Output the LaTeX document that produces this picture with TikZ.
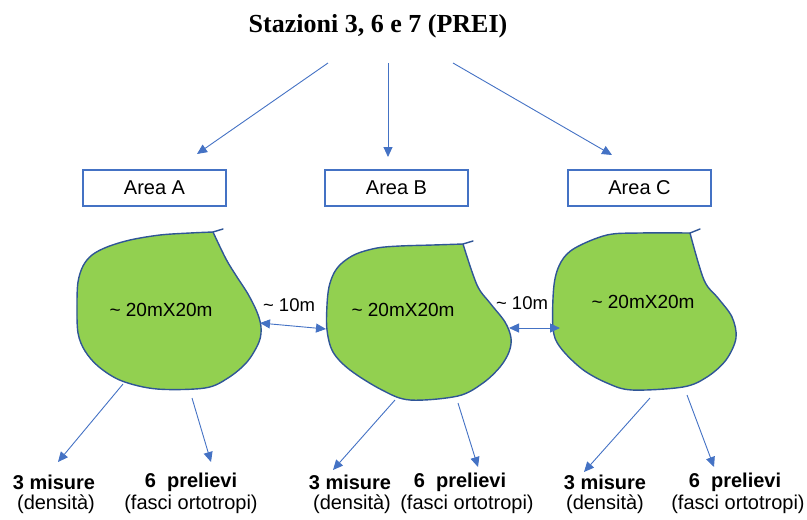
\documentclass[tikz,border=0pt]{standalone}
\usepackage{fontspec}
\setmainfont{Liberation Serif}
\setsansfont{Liberation Sans}
\usetikzlibrary{arrows.meta}
\definecolor{arrblue}{HTML}{4472C4}
\definecolor{edgeblue}{HTML}{2F5597}
\definecolor{grassgreen}{HTML}{92D050}
\tikzset{
  conn/.style={draw=arrblue, line width=0.9pt, -{Triangle[length=10pt,width=9pt]}},
  dconn/.style={draw=arrblue, line width=0.9pt, {Triangle[length=10pt,width=9pt]}-{Triangle[length=10pt,width=9pt]}},
  areabox/.style={draw=arrblue, line width=1.3pt, minimum width=143pt, minimum height=36pt, inner sep=0pt, font=\sffamily\fontsize{20}{24}\selectfont},
  field/.style={draw=edgeblue, line width=1.4pt, fill=grassgreen, line join=round},
  tick/.style={draw=edgeblue, line width=1.4pt, line cap=round},
  lbl/.style={inner sep=0pt, font=\sffamily\fontsize{20}{24}\selectfont},
  blbl/.style={inner sep=0pt, font=\sffamily\bfseries\fontsize{20}{24}\selectfont},
  dist/.style={inner sep=0pt, font=\sffamily\fontsize{18.5}{22}\selectfont},
  size/.style={inner sep=0pt, font=\sffamily\fontsize{19}{23}\selectfont}
}
\begin{document}
\begin{tikzpicture}[x=1pt,y=-1pt]
\useasboundingbox (0,0) rectangle (807,520);

% title
\node[inner sep=0pt, font=\bfseries\fontsize{26}{30}\selectfont] (title) at (378,26) {Stazioni 3, 6 e 7 (PREI)};

% area boxes
\node[areabox] (boxA) at (154.5,188) {Area A};
\node[areabox] (boxB) at (396.5,188) {Area B};
\node[areabox] (boxC) at (639.5,188) {Area C};

% top arrows
\coordinate (tA) at (328,63);
\coordinate (tB) at (388,63);
\coordinate (tC) at (453,63);
\coordinate (hA) at (197,154);
\coordinate (hB) at (388,157);
\coordinate (hC) at (612,155);
\draw[conn] (tA) -- (hA);
\draw[conn] (tB) -- (hB);
\draw[conn] (tC) -- (hC);

% field A
\draw[field] plot[smooth, tension=0.55] coordinates {(213,232) (190,233) (160,235) (130,240) (107,247) (92,255) (83,266) (78,282) (77,305) (78,333) (85,351) (99,367) (122,381) (157,389) (205,388) (228,378) (247,362) (259,342) (261,327) (257,312) (248,294) (237,277) (226,259) (213,232)} -- cycle;
\draw[tick] (213,232) -- (223,229);
% field B
\draw[field] plot[smooth, tension=0.55] coordinates {(463,244) (433,245) (400,246) (377,248) (356,254) (342,263) (334,273) (329,287) (327,305) (327,330) (333,352) (350,370) (382,390) (410,400) (458,396) (483,383) (500,367) (509,352) (511,338) (505,322) (490,303) (477,285) (463,244)} -- cycle;
\draw[tick] (463,244) -- (473,241);
% field C
\draw[field] plot[smooth, tension=0.55] coordinates {(690,233) (640,233) (607,235) (575,248) (561,262) (554,285) (553,328) (560,347) (582,369) (607,383) (632,390) (683,387) (707,377) (726,360) (736,338) (732,317) (718,298) (704,280) (690,233)} -- cycle;
\draw[tick] (690,233) -- (700,229);

% size labels
\node[size] (sA) at (161,310) {\textasciitilde\ 20mX20m};
\node[size] (sB) at (403,310) {\textasciitilde\ 20mX20m};
\node[size] (sC) at (643,302) {\textasciitilde\ 20mX20m};

% distance arrows
\coordinate (eA) at (260,323);
\coordinate (wB) at (326,329);
\coordinate (eB) at (509,328);
\coordinate (wC) at (560,328);
\draw[dconn] (eA) -- (wB);
\draw[dconn] (eB) -- (wC);
\node[dist] (d1) at (289,305) {\textasciitilde\ 10m};
\node[dist] (d2) at (522,303) {\textasciitilde\ 10m};

% bottom arrows
\coordinate (bA1) at (123,384);
\coordinate (bA2) at (192,398);
\coordinate (bB1) at (395,400);
\coordinate (bB2) at (458,403);
\coordinate (bC1) at (650,398);
\coordinate (bC2) at (687,395);
\coordinate (pA1) at (58,462);
\coordinate (pA2) at (211,462);
\coordinate (pB1) at (333,470);
\coordinate (pB2) at (478,467);
\coordinate (pC1) at (584,472);
\coordinate (pC2) at (714,467);
\draw[conn] (bA1) -- (pA1);
\draw[conn] (bA2) -- (pA2);
\draw[conn] (bB1) -- (pB1);
\draw[conn] (bB2) -- (pB2);
\draw[conn] (bC1) -- (pC1);
\draw[conn] (bC2) -- (pC2);

% bottom labels
\node[blbl] (mA) at (54,482) {3 misure};
\node[lbl]  (dA) at (56,504) {(densità)};
\node[blbl] (prA) at (191,482) {6\ \ prelievi};
\node[lbl]  (fA) at (191,504) {(fasci ortotropi)};

\node[blbl] (mB) at (350,482) {3 misure};
\node[lbl]  (dB) at (352,504) {(densità)};
\node[blbl] (prB) at (460,482) {6\ \ prelievi};
\node[lbl]  (fB) at (467,504) {(fasci ortotropi)};

\node[blbl] (mC) at (605,482) {3 misure};
\node[lbl]  (dC) at (605,504) {(densità)};
\node[blbl] (prC) at (735,482) {6\ \ prelievi};
\node[lbl]  (fC) at (738,504) {(fasci ortotropi)};
\end{tikzpicture}
\end{document}
